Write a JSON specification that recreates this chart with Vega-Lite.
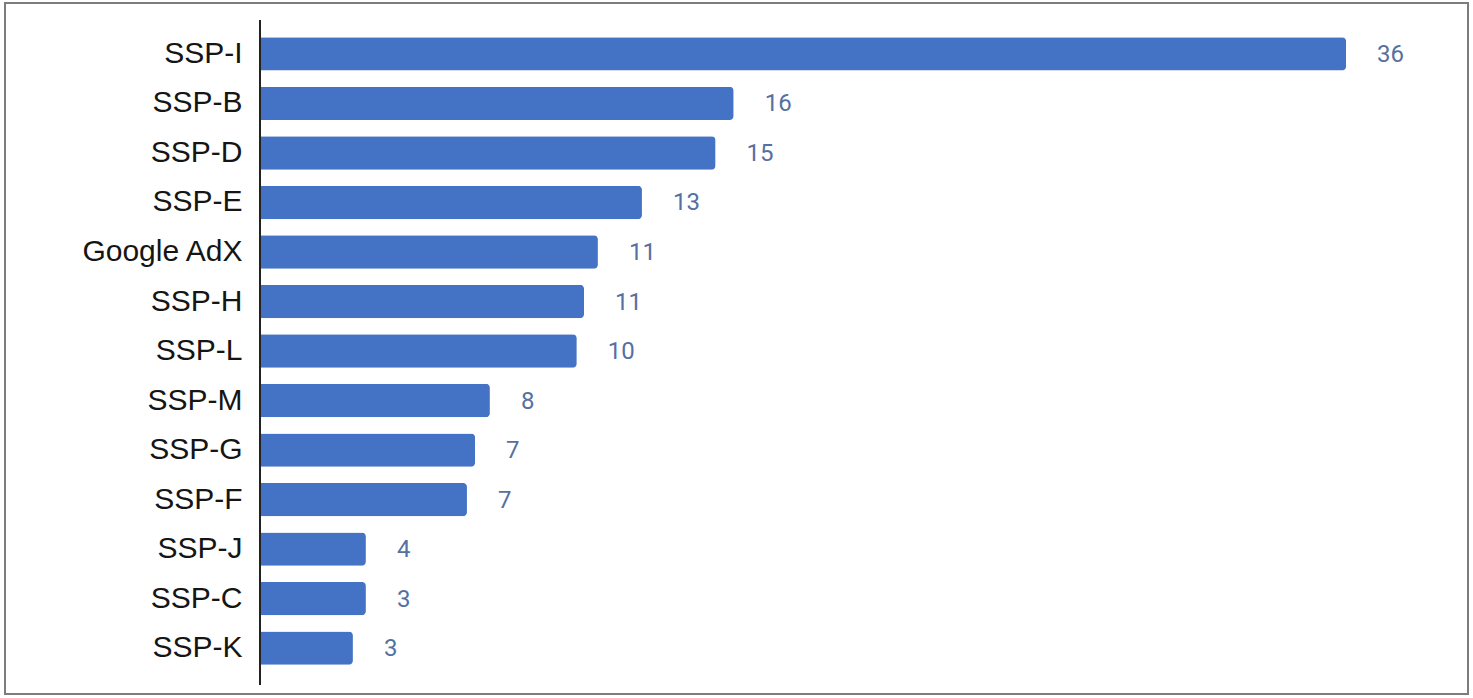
{
  "$schema": "https://vega.github.io/schema/vega-lite/v6.json",
  "autosize": "none",
  "width": 1463,
  "height": 691,
  "padding": {"left": 5, "top": 3, "right": 5, "bottom": 4},
  "background": "white",
  "config": {"view": {"stroke": "#7d7d7d", "strokeWidth": 2}},
  "layer": [
    {
      "data": {"values": [
        {"name": "SSP-I", "value": 36.0, "label": "36"},
        {"name": "SSP-B", "value": 15.7, "label": "16"},
        {"name": "SSP-D", "value": 15.1, "label": "15"},
        {"name": "SSP-E", "value": 12.66, "label": "13"},
        {"name": "Google AdX", "value": 11.2, "label": "11"},
        {"name": "SSP-H", "value": 10.74, "label": "11"},
        {"name": "SSP-L", "value": 10.5, "label": "10"},
        {"name": "SSP-M", "value": 7.62, "label": "8"},
        {"name": "SSP-G", "value": 7.13, "label": "7"},
        {"name": "SSP-F", "value": 6.86, "label": "7"},
        {"name": "SSP-J", "value": 3.51, "label": "4"},
        {"name": "SSP-C", "value": 3.51, "label": "3"},
        {"name": "SSP-K", "value": 3.08, "label": "3"}
      ]},
      "encoding": {
        "y": {"field": "name", "type": "nominal", "sort": null,
          "scale": {"paddingInner": 0.326, "paddingOuter": 0.64, "align": 0.54},
          "axis": {"title": null, "domain": false, "ticks": false, "tickSize": 0,
            "labelFontSize": 30, "labelFont": "Liberation Sans", "labelColor": "#151515",
            "labelPadding": 18, "offset": -255}},
        "x": {"field": "value", "type": "quantitative",
          "scale": {"domain": [-8.452, 40.04], "nice": false, "zero": false},
          "axis": null}
      },
      "layer": [
        {"mark": {"type": "bar", "color": "#4472C4", "cornerRadiusEnd": 4}},
        {"mark": {"type": "text", "align": "left", "baseline": "middle", "dx": 31, "dy": 1,
          "fontSize": 24, "font": "Roboto", "color": "#56709f"},
         "encoding": {"text": {"field": "label"}}}
      ]
    },
    {
      "data": {"values": [{"y0": 0, "y1": 665}]},
      "mark": {"type": "rule", "color": "#222", "strokeWidth": 2},
      "encoding": {
        "x": {"datum": 0, "type": "quantitative"},
        "y": {"field": "y0", "type": "quantitative", "scale": {"domain": [-9, 682], "nice": false, "zero": false}, "axis": null},
        "y2": {"field": "y1"}
      }
    }
  ],
  "resolve": {"scale": {"y": "independent"}}
}
